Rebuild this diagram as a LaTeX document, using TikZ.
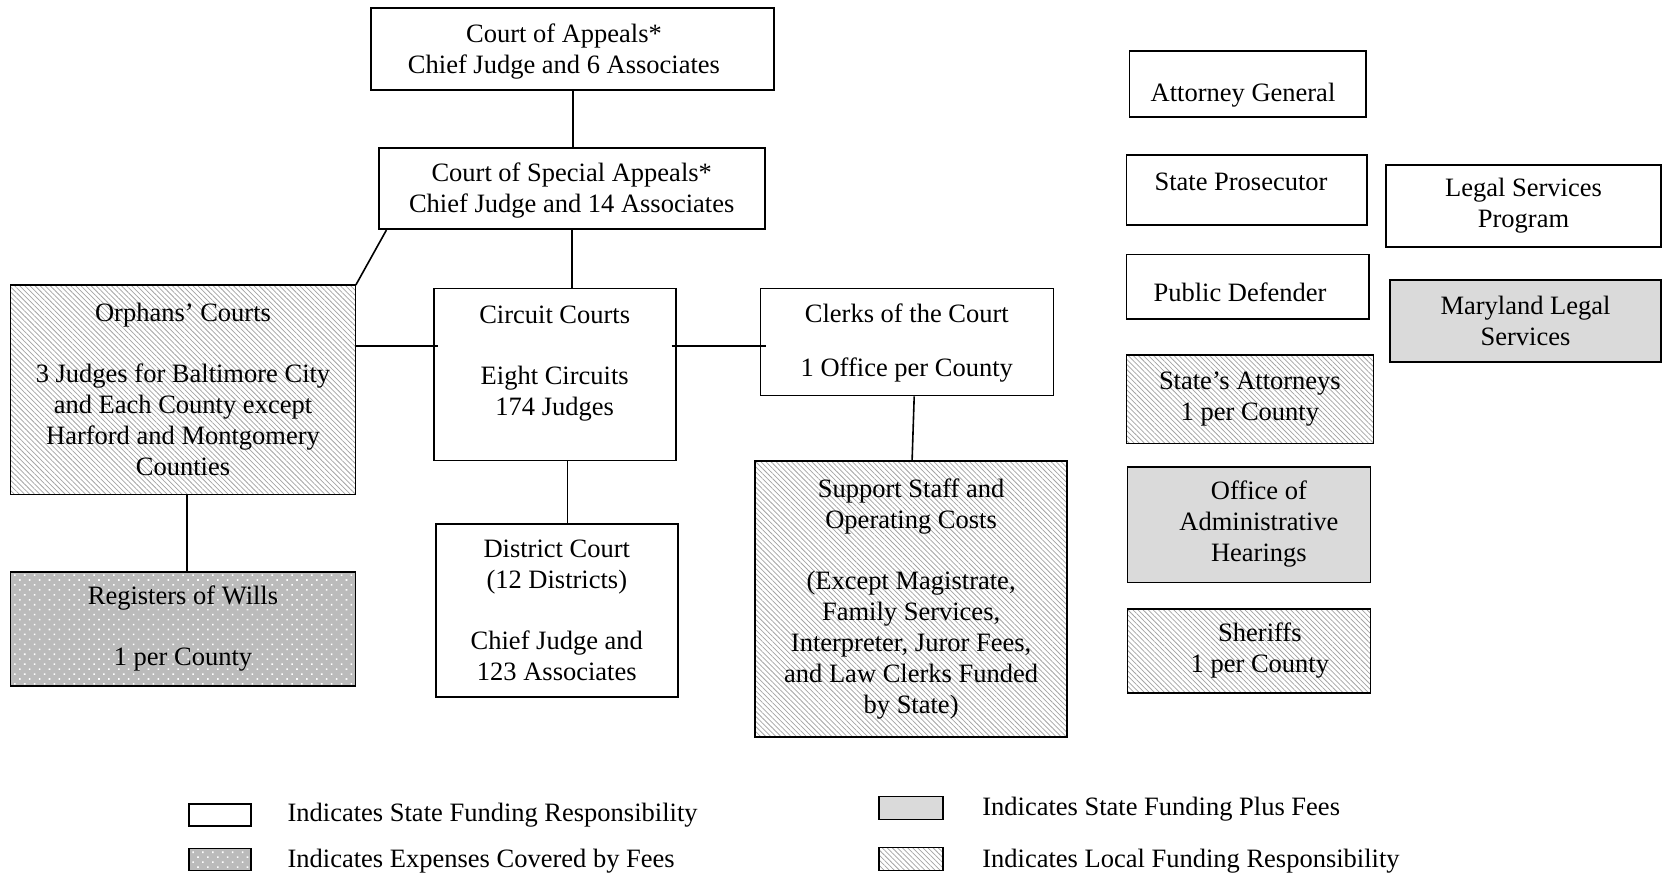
\documentclass[tikz,border=0pt]{standalone}
\usepackage{fontspec}
\setmainfont{Liberation Serif}
\usetikzlibrary{patterns.meta,calc}
\definecolor{lgray}{HTML}{DADADA}
\definecolor{dgray}{HTML}{BBBBBB}
\definecolor{hatchc}{HTML}{A4A4A4}
\tikzset{
  txt/.style={font=\fontsize{26.5}{31}\selectfont, align=center, inner sep=0pt},
  box/.style={txt, draw=black, line width=1.6pt, anchor=center},
  statebox/.style={box, fill=white},
  plusfees/.style={box, fill=lgray},
  feesbox/.style={box, preaction={fill=dgray}, pattern={Dots[radius=1.1pt,distance=7pt,angle=45]}, pattern color=white},
  localbox/.style={box, preaction={fill=white}, pattern={Lines[angle=-45,distance=3.6pt,line width=0.75pt]}, pattern color=hatchc},
  conn/.style={line width=1.6pt},
  legtext/.style={anchor=west, font=\fontsize{26.5}{31}\selectfont, inner sep=0pt}
}
\begin{document}
\begin{tikzpicture}[x=1pt,y=-1pt]
\fill[white] (0,0) rectangle (1663,877);
\useasboundingbox (0,0) rectangle (1663,877);

% courts
\node[statebox, minimum width=403pt, minimum height=82pt,
  label={[txt,xshift=-8.7pt,yshift=-2pt]center:{Court of Appeals*\\Chief Judge and 6 Associates}}] (coa) at (572.7,49.3) {};
\node[statebox, minimum width=386pt, minimum height=81pt,
  label={[txt,yshift=-2pt]center:{Court of Special Appeals*\\Chief Judge and 14 Associates}}] (csa) at (571.7,188.8) {};
\node[localbox, minimum width=345pt, minimum height=209pt] (orph) at (183,389.8) {Orphans’ Courts\\[30pt]3 Judges for Baltimore City\\and Each County except\\Harford and Montgomery\\Counties};
\node[statebox, minimum width=242pt, minimum height=172pt,
  label={[txt,yshift=11pt]center:{Circuit Courts\\[30pt]Eight Circuits\\174 Judges}}] (circ) at (554.7,374.4) {};
\node[statebox, minimum width=293pt, minimum height=107pt,
  label={[txt,yshift=-1pt]center:{Clerks of the Court\\[23pt]1 Office per County}}] (clerks) at (906.8,342) {};
\node[feesbox, minimum width=345pt, minimum height=114.5pt] (reg) at (183,629) {Registers of Wills\\[30pt]1 per County};
\node[statebox, minimum width=242pt, minimum height=173pt] (dist) at (556.8,610.4) {District Court\\(12 Districts)\\[30pt]Chief Judge and\\123 Associates};
\node[localbox, minimum width=312pt, minimum height=276pt] (supp) at (911.1,599.2) {Support Staff and\\Operating Costs\\[30pt](Except Magistrate,\\Family Services,\\Interpreter, Juror Fees,\\and Law Clerks Funded\\by State)};

% right column
\node[statebox, minimum width=236.5pt, minimum height=66pt,
  label={[txt,xshift=-4.8pt,yshift=-11.5pt]center:{Attorney General}}] (ag) at (1247.8,83.8) {};
\node[statebox, minimum width=240.7pt, minimum height=70pt,
  label={[txt,xshift=-5.7pt,yshift=7.5pt]center:{State Prosecutor}}] (sp) at (1246.7,189.8) {};
\node[statebox, minimum width=242.8pt, minimum height=64.7pt,
  label={[txt,xshift=-7.8pt,yshift=-5.5pt]center:{Public Defender}}] (pd) at (1247.8,286.9) {};
\node[localbox, minimum width=247pt, minimum height=88pt] (sa) at (1249.9,399.3) {State’s Attorneys\\1 per County};
\node[plusfees, minimum width=243pt, minimum height=115.6pt,
  label={[txt,xshift=10pt]center:{Office of\\Administrative\\Hearings}}] (oah) at (1248.9,524.5) {};
\node[localbox, minimum width=243pt, minimum height=84pt,
  label={[txt,xshift=11pt]center:{Sheriffs\\1 per County}}] (sher) at (1248.9,650.7) {};
\node[statebox, minimum width=275pt, minimum height=82pt] (lsp) at (1523.5,206) {Legal Services\\Program};
\node[plusfees, minimum width=271pt, minimum height=82pt] (mls) at (1525.5,321) {Maryland Legal\\Services};

% connectors
\coordinate (h1) at (0,346);
\draw[conn] (coa.south) -- (coa.south |- csa.north);
\draw[conn] (csa.south) -- (csa.south |- circ.north);
\draw[conn] ($(csa.south west)+(8.5,0)$) -- (orph.north east);
\draw[conn] (orph.east |- h1) -- ($(circ.west |- h1)+(5,0)$);
\draw[conn] ($(circ.east |- h1)+(-5,0)$) -- ($(clerks.west |- h1)+(6,0)$);
\draw[conn] ([xshift=7.4pt]clerks.south) -- ([xshift=1pt]supp.north);
\draw[conn] ([xshift=3.7pt]orph.south) -- ([xshift=3.7pt]reg.north);
\draw[conn] ([xshift=12.7pt]circ.south) -- ([xshift=12.7pt]circ.south |- dist.north);

% legend
\node[statebox, minimum width=62pt, minimum height=22pt] (k1) at (220,815) {};
\node[legtext] (t1) at (287.4,815.5) {Indicates State Funding Responsibility};
\node[feesbox, minimum width=62pt, minimum height=22pt] (k2) at (220,859.6) {};
\node[legtext] (t2) at (287.4,861) {Indicates Expenses Covered by Fees};
\node[plusfees, minimum width=63.7pt, minimum height=23.3pt] (k3) at (911,808) {};
\node[legtext] (t3) at (982.1,809) {Indicates State Funding Plus Fees};
\node[localbox, minimum width=63.7pt, minimum height=23.3pt] (k4) at (911,859) {};
\node[legtext] (t4) at (982.1,861) {Indicates Local Funding Responsibility};
\end{tikzpicture}
\end{document}
